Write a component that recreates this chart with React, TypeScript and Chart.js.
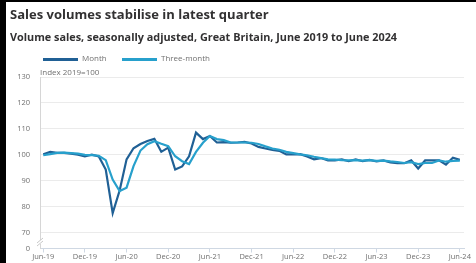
import React, { useEffect, useRef } from "react";
import { Chart, registerables } from "chart.js";

Chart.register(...registerables);

const tickLabels = ["Jun-19", "Dec-19", "Jun-20", "Dec-20", "Jun-21", "Dec-21", "Jun-22", "Dec-22", "Jun-23", "Dec-23", "Jun-24"];

const monthValues = [
  100.3, 101.2, 100.8, 100.8, 100.5, 100.1, 99.5, 100.1, 99.4, 94.4,
  77.6, 86.3, 98.3, 102.6, 104.2, 105.4, 106.2, 101.2, 102.8, 94.4,
  95.6, 99.5, 108.6, 106.1, 107.3, 104.8, 104.9, 104.7, 104.8, 105.0,
  104.4, 103.1, 102.5, 101.9, 101.6, 100.2, 100.2, 100.3, 99.4, 98.3,
  98.8, 97.9, 97.9, 98.3, 97.6, 98.3, 97.6, 98.1, 97.5, 97.9,
  97.1, 96.8, 96.8, 97.9, 94.8, 97.9, 97.9, 97.9, 96.3, 98.9,
  98.1,
];

const threeMonthValues = [
  99.9, 100.3, 100.8, 100.9, 100.7, 100.5, 100.0, 99.9, 99.7, 98.0,
  90.5, 86.1, 87.4, 95.7, 101.7, 104.1, 105.3, 104.3, 103.4, 99.5,
  97.6, 96.5, 101.2, 104.7, 107.3, 106.1, 105.7, 104.8, 104.8, 104.8,
  104.7, 104.2, 103.3, 102.5, 102.0, 101.2, 100.7, 100.2, 99.9, 99.3,
  98.8, 98.3, 98.2, 98.0, 97.9, 98.0, 97.8, 98.0, 97.7, 97.8,
  97.5, 97.3, 96.9, 97.2, 96.5, 96.9, 96.9, 97.9, 97.4, 97.7,
  97.8,
];

const yTicks = [64, 70, 80, 90, 100, 110, 120, 130];
const yTickLabels = ["0", "70", "80", "90", "100", "110", "120", "130"];

const DARK = "#206095";
const LIGHT = "#27a0cc";
const FONT = "'Open Sans', sans-serif";

const breakPlugin = {
  id: "axisBreak",
  afterDraw(chart: any) {
    const { ctx, chartArea, scales } = chart;
    const y = scales.y.getPixelForValue(66.5);
    const x = chartArea.left;
    ctx.save();
    ctx.fillStyle = "#ffffff";
    ctx.fillRect(x - 2, y - 2, 4, 4);
    ctx.strokeStyle = "#c8c8c8";
    ctx.lineWidth = 1;
    ctx.beginPath();
    ctx.moveTo(x - 3, y + 1);
    ctx.lineTo(x + 3, y - 4);
    ctx.moveTo(x - 3, y + 4);
    ctx.lineTo(x + 3, y - 1);
    ctx.stroke();
    ctx.restore();
  },
};

export default function App() {
  const ref = useRef<HTMLCanvasElement>(null);

  useEffect(() => {
    document.body.style.margin = "0";
    const xs = monthValues.map((_, i) => i);
    const chart = new Chart(ref.current!, {
      type: "line",
      data: {
        datasets: [
          {
            label: "Three-month",
            data: threeMonthValues.map((v, i) => ({ x: xs[i], y: v })),
            borderColor: LIGHT,
            borderWidth: 2.2,
            pointRadius: 0,
            tension: 0,
          },
          {
            label: "Month",
            data: monthValues.map((v, i) => ({ x: xs[i], y: v })),
            borderColor: DARK,
            borderWidth: 2.2,
            pointRadius: 0,
            tension: 0,
          },
        ],
      },
      options: {
        animation: false,
        responsive: false,
        maintainAspectRatio: false,
        layout: { padding: { top: 77, right: 12, left: 0, bottom: 0 } },
        plugins: { legend: { display: false }, tooltip: { enabled: false } },
        scales: {
          x: {
            type: "linear",
            min: -0.47,
            max: 60.6,
            afterBuildTicks(scale: any) {
              scale.ticks = tickLabels.map((_, i) => ({ value: i * 6 }));
            },
            afterFit(scale: any) {
              scale.height = 13.5;
            },
            ticks: {
              callback: (v: any) => tickLabels[Math.round(Number(v) / 6)] ?? "",
              color: "#707070",
              font: { family: FONT, size: 7.5 },
              padding: 0,
              maxRotation: 0,
              autoSkip: false,
            },
            grid: { drawOnChartArea: false, drawTicks: true, tickLength: 4, color: "#cfd8e3" },
            border: { display: true, color: "#cfd8e3", width: 1 },
          },
          y: {
            type: "linear",
            min: 64,
            max: 130,
            afterBuildTicks(scale: any) {
              scale.ticks = yTicks.map((v) => ({ value: v }));
            },
            afterFit(scale: any) {
              scale.width = 40;
            },
            ticks: {
              callback: (v: any) => yTickLabels[yTicks.indexOf(Number(v))] ?? "",
              color: "#707070",
              font: { family: FONT, size: 7.5 },
              padding: 10,
            },
            grid: {
              drawTicks: false,
              color: (c: any) => (c.tick && c.tick.value === 64 ? "rgba(0,0,0,0)" : "#ebebeb"),
            },
            border: { display: true, color: "#d6d6d6", width: 1 },
          },
        },
      },
      plugins: [breakPlugin],
    });
    return () => chart.destroy();
  }, []);

  const textGray = "#707070";

  return (
    <div style={{ position: "fixed", left: 0, top: 0, width: 476, height: 263, background: "#fff", overflow: "hidden", fontFamily: FONT }}>
      <canvas ref={ref} width={476} height={263} style={{ position: "absolute", left: 0, top: 0, width: 476, height: 263 }} />
      <div style={{ position: "absolute", left: 0, top: 0, width: 6, height: 263, background: "#000" }} />
      <div style={{ position: "absolute", left: 0, top: 0, width: 476, height: 2, background: "#000" }} />
      <div style={{ position: "absolute", left: 10, top: 7.6, fontSize: 13, lineHeight: "13px", fontWeight: 700, color: "#323132", whiteSpace: "nowrap" }}>
        Sales volumes stabilise in latest quarter
      </div>
      <div style={{ position: "absolute", left: 10, top: 31, fontSize: 10.85, lineHeight: "11px", fontWeight: 700, color: "#323132", whiteSpace: "nowrap" }}>
        Volume sales, seasonally adjusted, Great Britain, June 2019 to June 2024
      </div>
      <div style={{ position: "absolute", left: 43, top: 58, width: 35, height: 3, background: DARK }} />
      <div style={{ position: "absolute", left: 82, top: 54, fontSize: 8, lineHeight: "8px", color: textGray, whiteSpace: "nowrap" }}>Month</div>
      <div style={{ position: "absolute", left: 122, top: 58, width: 35, height: 3, background: LIGHT }} />
      <div style={{ position: "absolute", left: 161, top: 54, fontSize: 8, lineHeight: "8px", color: textGray, whiteSpace: "nowrap" }}>Three-month</div>
      <div style={{ position: "absolute", left: 40, top: 68, fontSize: 8, lineHeight: "8px", color: textGray, whiteSpace: "nowrap" }}>Index 2019=100</div>
    </div>
  );
}
